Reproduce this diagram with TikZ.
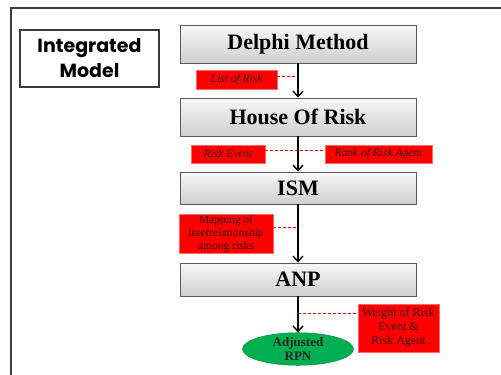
\documentclass[tikz,border=0pt]{standalone}
\usepackage{fontspec}
\setmainfont{Liberation Serif}
\newfontfamily\gothic{Poppins}
\usetikzlibrary{arrows.meta,shadows,shapes.geometric}
\definecolor{labeltext}{HTML}{3C0000}
\definecolor{rpngreen}{HTML}{00B050}
\definecolor{framegray}{HTML}{3A3A3A}
\tikzset{
  x=1pt, y=-1pt,
  stage/.style={draw=gray!70!black, line width=0.8pt, top color=gray!6, bottom color=gray!38,
    minimum width=236pt, inner sep=0pt, font=\bfseries\fontsize{22}{24}\selectfont,
    drop shadow={shadow xshift=1.2pt, shadow yshift=-1.2pt, opacity=0.25}},
  tag/.style={fill=red, draw=red!60!white, line width=0.5pt, inner sep=0pt,
    text=labeltext, font=\fontsize{11.5}{13}\selectfont, align=center},
  itag/.style={tag, font=\itshape\fontsize{11.5}{13}\selectfont},
  flow/.style={line width=1.5pt, -{Straight Barb[length=5.5pt,width=10pt,line width=1.4pt]}},
  link/.style={red!90!black, dashed, dash pattern=on 3pt off 2pt, line width=0.9pt},
}
\begin{document}
\begin{tikzpicture}
\useasboundingbox (0,0) rectangle (501,375);
% outer frame (open to the right and bottom)
\draw[framegray, line width=2pt] (11,376) -- (11,8) -- (502,8);

% title box
\node[draw=framegray, line width=1.5pt, minimum width=139pt, minimum height=57pt, inner sep=0pt,
  align=center, font=\gothic\bfseries\fontsize{19}{25}\selectfont] (title) at (89.5,58.5)
  {Integrated\\Model};

% stages
\node[stage, minimum height=38pt] (delphi) at (298,44) {Delphi Method};
\node[stage, minimum height=38pt] (hor) at (298,117) {House Of Risk};
\node[stage, minimum height=32pt] (ism) at (298,188) {ISM};
\node[stage, minimum height=33pt] (anp) at (298,279.5) {ANP};
\node[ellipse, fill=rpngreen, draw=rpngreen!80!black, line width=0.5pt, minimum width=111pt,
  minimum height=30pt, inner sep=0pt, align=center, text=black!85,
  font=\bfseries\fontsize{13}{14}\selectfont] (rpn) at (298,349) {Adjusted\\RPN};

% flow arrows
\draw[flow] (delphi.south) -- (hor.north);
\draw[flow] (hor.south) -- (ism.north);
\draw[flow] (ism.south) -- (anp.north);
\draw[flow] (anp.south) -- (rpn.north);

% red output tags
\node[itag, minimum width=81pt, minimum height=19pt] (lor) at (236.5,79.5) {List of Risk};
\node[itag, minimum width=74pt, minimum height=18pt] (re) at (228,154) {Risk Event};
\node[itag, minimum width=107pt, minimum height=18pt] (rra) at (378.5,154) {Rank of Risk Agent};
\node[tag, minimum width=94pt, minimum height=39pt] (map) at (226,233.5) {Mapping of\\interrelationship\\among risks};
\node[tag, minimum width=81pt, minimum height=48pt, font=\fontsize{12}{14}\selectfont] (wgt) at (398.5,328) {Weight of Risk\\Event \&\\Risk Agent};

% dashed ties to the arrows
\coordinate (t1) at (298,76);
\coordinate (t2) at (298,150);
\coordinate (t3) at (298,227);
\coordinate (t4) at (298,313);
\draw[link] (lor.east |- t1) -- (t1);
\draw[link] (re.east |- t2) -- (rra.west |- t2);
\draw[link] (map.east |- t3) -- (t3);
\draw[link] (t4) -- (wgt.west |- t4);
\end{tikzpicture}
\end{document}
